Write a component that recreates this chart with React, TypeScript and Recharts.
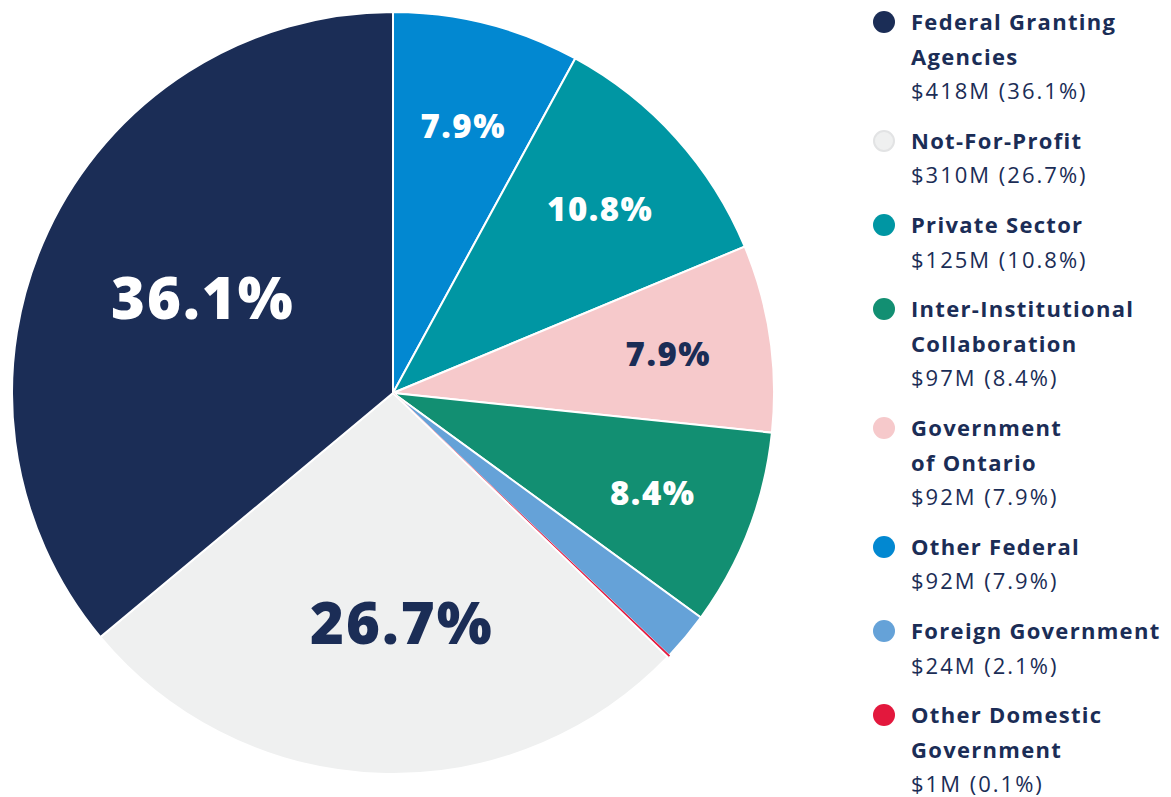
import { Pie, PieChart, Cell } from 'recharts';

// legend order
const categories = [
  'Federal Granting Agencies',
  'Not-For-Profit',
  'Private Sector',
  'Inter-Institutional Collaboration',
  'Government of Ontario',
  'Other Federal',
  'Foreign Government',
  'Other Domestic Government',
];
const legendLines = [
  ['Federal Granting', 'Agencies'],
  ['Not-For-Profit'],
  ['Private Sector'],
  ['Inter-Institutional', 'Collaboration'],
  ['Government', 'of Ontario'],
  ['Other Federal'],
  ['Foreign Government'],
  ['Other Domestic', 'Government'],
];
const amounts = [418, 310, 125, 97, 92, 92, 24, 1]; // $M
const percents = [36.1, 26.7, 10.8, 8.4, 7.9, 7.9, 2.1, 0.1];
const colors = ['#1b2d56', '#eff0f0', '#0096a3', '#128f72', '#f6c9cb', '#0288d1', '#65a2d8', '#e3183d'];

// slices clockwise from 12 o'clock
const pieOrder = [5, 2, 4, 3, 6, 7, 1, 0];

const NAVY = '#1b2d56';
const FONT = '"Open Sans", Roboto, sans-serif';

const pieData = pieOrder.map((i) => ({
  name: categories[i],
  value: amounts[i],
  pct: percents[i],
  color: colors[i],
}));

const renderLabel = (props: any) => {
  const { cx, cy, midAngle, outerRadius, payload, index } = props;
  const d = payload ?? pieData[index];
  if (d.pct < 5) return null;
  const big = d.pct > 20;
  const r = outerRadius * (big ? 0.6 : 0.725);
  const rad = Math.PI / 180;
  const x = cx + r * Math.cos(-midAngle * rad) + (big ? 17 : 2);
  const y = cy + r * Math.sin(-midAngle * rad);
  const dark = d.color === '#eff0f0' || d.color === '#f6c9cb';
  return (
    <text
      x={x}
      y={y}
      textAnchor="middle"
      dominantBaseline="central"
      fill={dark ? NAVY : '#ffffff'}
      fontFamily={FONT}
      fontWeight={800}
      letterSpacing={big ? 2 : 1.5}
      fontSize={big ? 58 : 33}>
      {d.pct.toFixed(1)}%
    </text>
  );
};

export default function App() {
  return (
    <div style={{ position: 'absolute', left: 0, top: 0, width: 1171, height: 797, background: '#fff' }}>
      <PieChart width={790} height={790} margin={{ top: 0, right: 0, bottom: 0, left: 0 }}>
        <Pie
          data={pieData}
          dataKey="value"
          nameKey="name"
          cx={393}
          cy={393}
          outerRadius={381}
          startAngle={90}
          endAngle={-270}
          stroke="#ffffff"
          strokeWidth={2}
          label={renderLabel}
          labelLine={false}
          isAnimationActive={false}>
          {pieData.map((d) => (
            <Cell
              key={d.name}
              fill={d.color}
              stroke={d.pct < 1 ? d.color : '#ffffff'}
              strokeWidth={d.pct < 1 ? 1.5 : 2}
            />
          ))}
        </Pie>
      </PieChart>
      <div style={{ position: 'absolute', left: 872, top: 4, fontFamily: FONT, color: NAVY }}>
        {categories.map((c, i) => (
          <div key={c} style={{ position: 'relative', paddingLeft: 39, marginBottom: 15 }}>
            <span
              style={{
                position: 'absolute',
                left: 1,
                top: 7,
                width: 22,
                height: 22,
                borderRadius: '50%',
                background: colors[i],
                boxSizing: 'border-box',
                border: i === 1 ? '2px solid #e2e3e4' : 'none',
              }}
            />
            {legendLines[i].map((l) => (
              <div
                key={l}
                style={{ fontWeight: 700, fontSize: 22, letterSpacing: 1.3, lineHeight: '34.6px', whiteSpace: 'nowrap' }}>
                {l}
              </div>
            ))}
            <div style={{ fontWeight: 400, fontSize: 22, letterSpacing: 2, lineHeight: '34.6px', whiteSpace: 'nowrap' }}>
              ${amounts[i]}M ({percents[i].toFixed(1)}%)
            </div>
          </div>
        ))}
      </div>
    </div>
  );
}
